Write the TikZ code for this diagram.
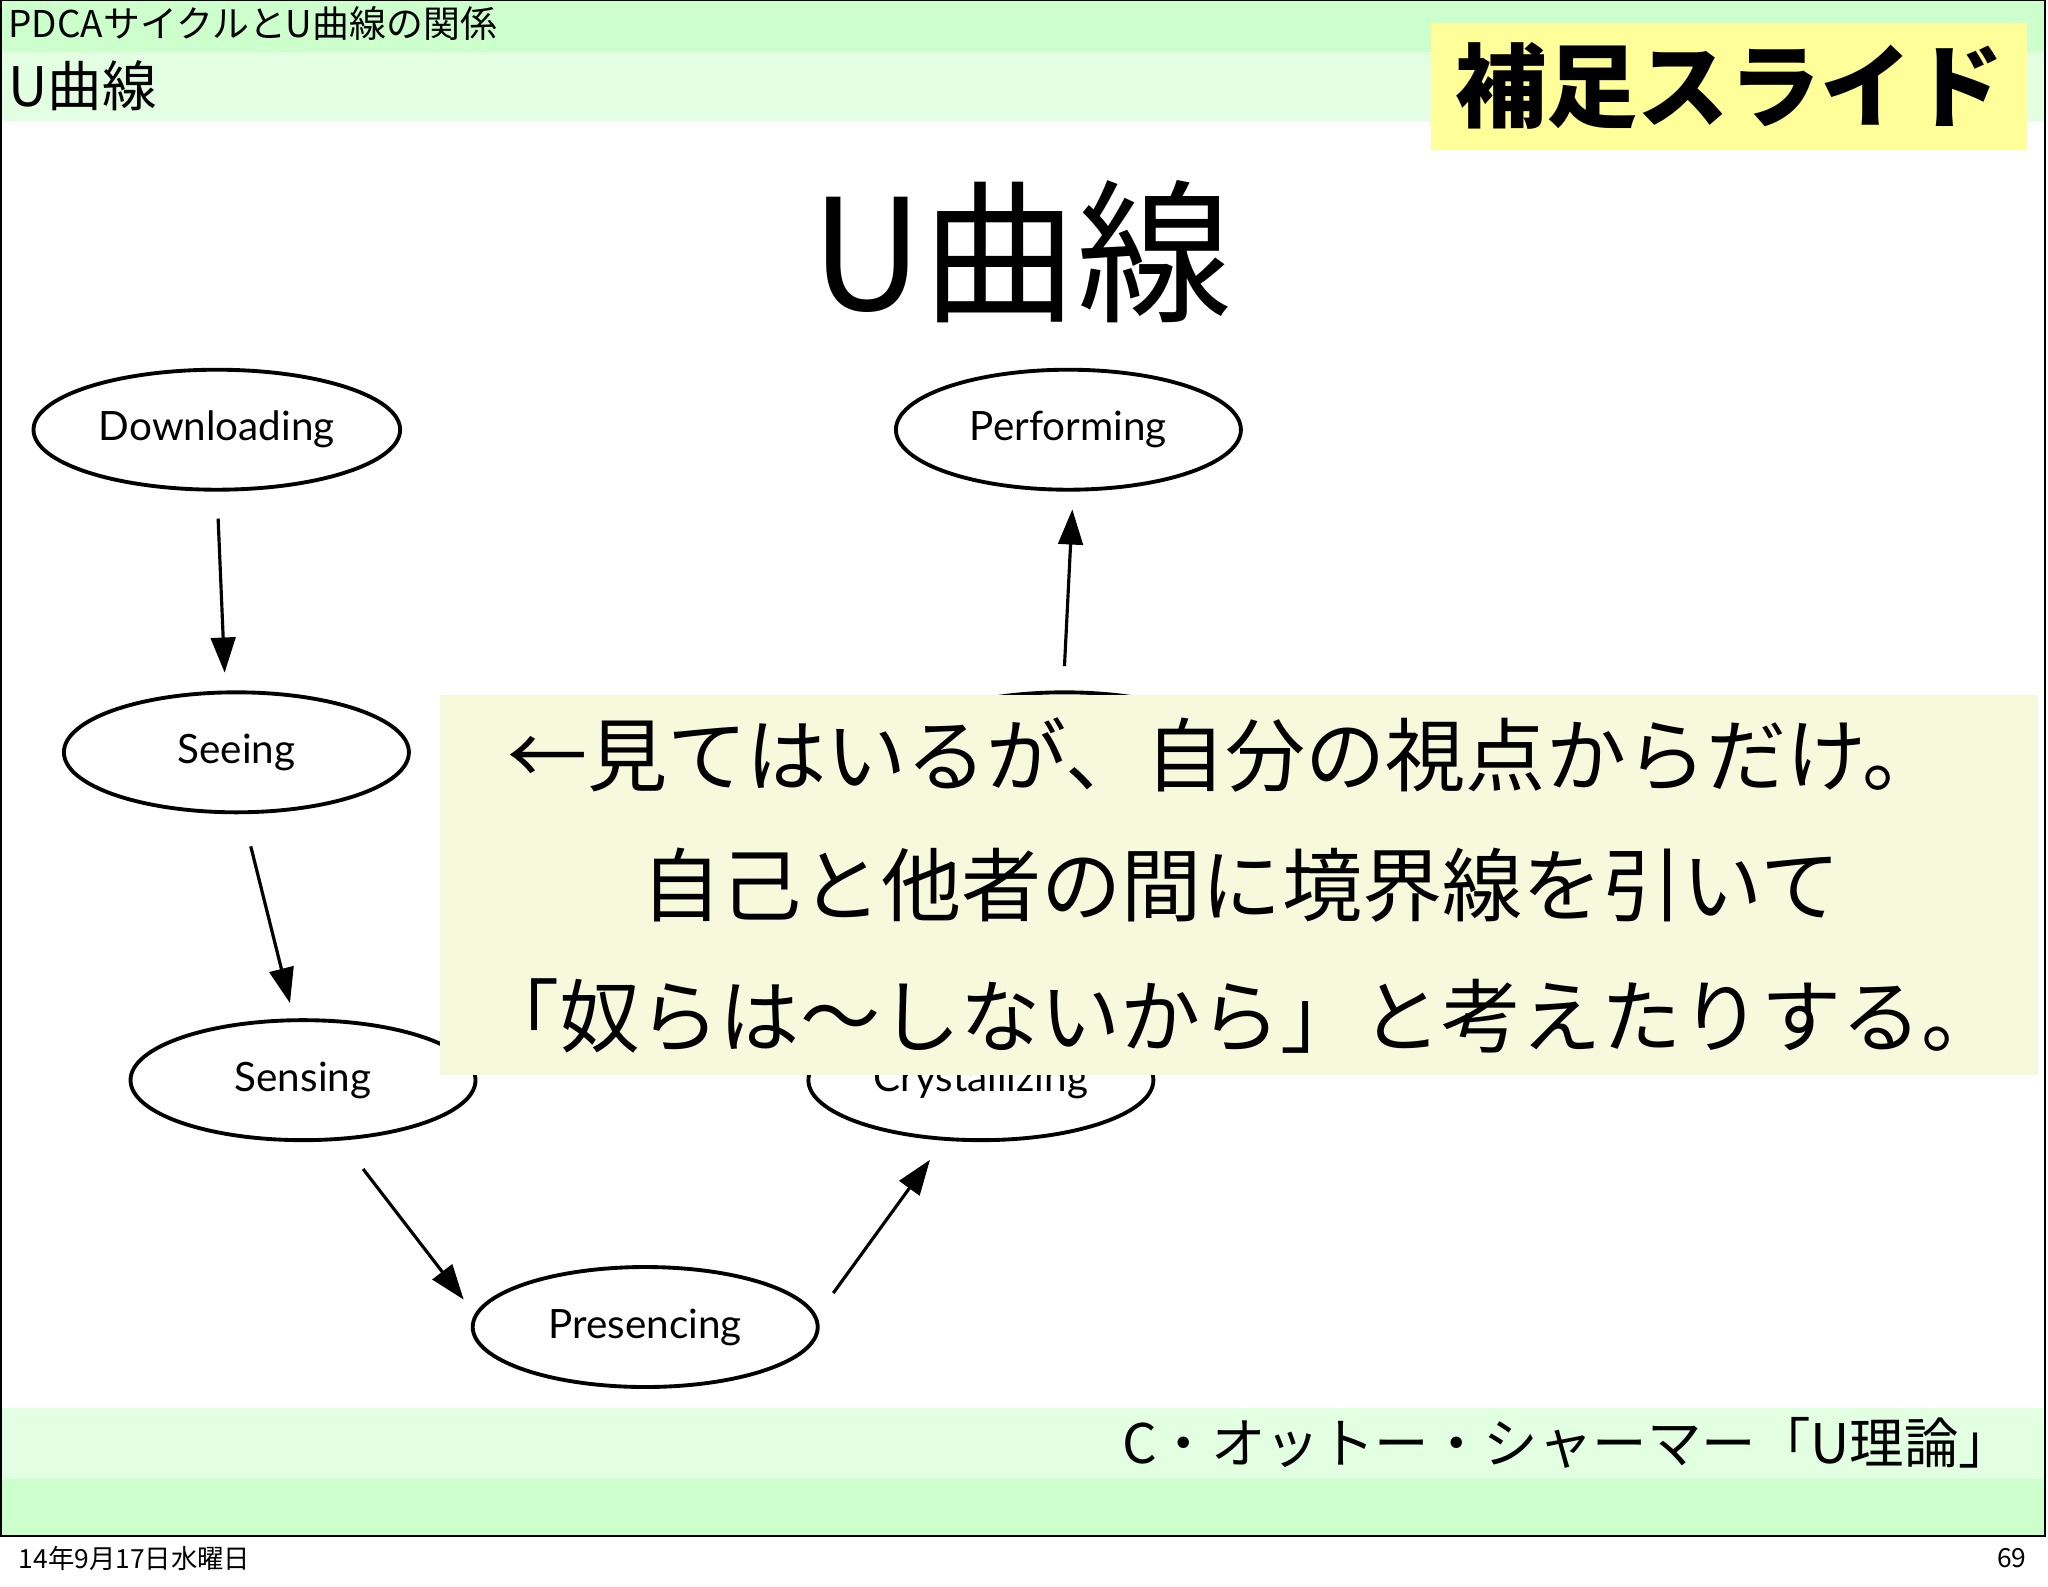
\documentclass[tikz,border=0pt]{standalone}
\usepackage{fontspec}
\setmainfont{Noto Sans CJK JP}
\newfontfamily\lat{Lato}
\usetikzlibrary{shapes.geometric,arrows.meta}
\definecolor{bandA}{HTML}{CCFFCC}
\definecolor{bandB}{HTML}{E2FFE2}
\definecolor{yel}{HTML}{FFFF99}
\definecolor{note}{HTML}{F6F9DC}
\begin{document}
\begin{tikzpicture}[x=0.013061cm,y=-0.013061cm,
  st/.style={ellipse,draw,line width=1.1pt,minimum width=3.45cm,minimum height=1.2cm,font=\lat\fontsize{11.5}{12}\selectfont},
  ar/.style={-{Triangle[length=10pt,width=7pt]},line width=0.9pt},
  big/.style={font=\fontsize{22.8}{26}\selectfont}]
\useasboundingbox (0,0) rectangle (1568,1215);
\fill[white] (0,0) rectangle (1568,1215);
\fill[bandA] (0,0) rectangle (1566,40);
\fill[bandB] (0,40) rectangle (1566,93);
\fill[bandB] (0,1078) rectangle (1566,1132);
\fill[bandA] (0,1132) rectangle (1566,1176);
\draw[line width=0.6pt] (1,0) rectangle (1566,1176);
\node[anchor=west,font=\fontsize{10.5}{12}\selectfont,inner sep=0] (t1) at (6,18) {PDCAサイクルとU曲線の関係};
\node[anchor=west,font=\fontsize{15.5}{18}\selectfont,inner sep=0] (t2) at (6,66) {U曲線};
\node[fill=yel,minimum width=5.96cm,minimum height=1.27cm,font=\bfseries\fontsize{26}{30}\selectfont] (hosoku) at (1324,66) {補足スライド};
\node[font=\fontsize{44}{50}\selectfont] (title) at (782,193) {U曲線};
\node[st] (d) at (166,329) {Downloading};
\node[st] (se) at (181,576) {Seeing};
\node[st] (sn) at (232,827) {Sensing};
\node[st] (pr) at (494,1016) {Presencing};
\node[st] (cr) at (751,827) {Crystallizing};
\node[st] (pt) at (815,576) {};
\node[st] (pe) at (818,329) {Performing};
\draw[ar] ([shift={(1,68)}]d.center) -- ([shift={(-9,-61)}]se.center);
\draw[ar] ([shift={(11,72)}]se.center) -- ([shift={(-10,-59)}]sn.center);
\draw[ar] ([shift={(46,68)}]sn.center) -- ([shift={(-139,-21)}]pr.center);
\draw[ar] ([shift={(144,-26)}]pr.center) -- ([shift={(-39,61)}]cr.center);
\draw[ar] ([shift={(0,-66)}]pt.center) -- ([shift={(3,61)}]pe.center);
\fill[note] (337,532) rectangle (1560,823);
\node[big] (l1) at (938,578) {←見てはいるが、自分の視点からだけ。};
\node[big] (l2) at (950,678) {自己と他者の間に境界線を引いて};
\node[big] (l3) at (950,778) {「奴らは〜しないから」と考えたりする。};
\node[anchor=east,font=\fontsize{15.5}{18}\selectfont,inner sep=0] (src) at (1542,1105) {C・オットー・シャーマー「U理論」};
\node[anchor=west,font=\fontsize{7.5}{9}\selectfont,inner sep=0] (date) at (14,1193) {14年9月17日水曜日};
\node[anchor=east,font=\fontsize{7.5}{9}\selectfont,inner sep=0] (pg) at (1552,1193) {69};
\end{tikzpicture}
\end{document}
